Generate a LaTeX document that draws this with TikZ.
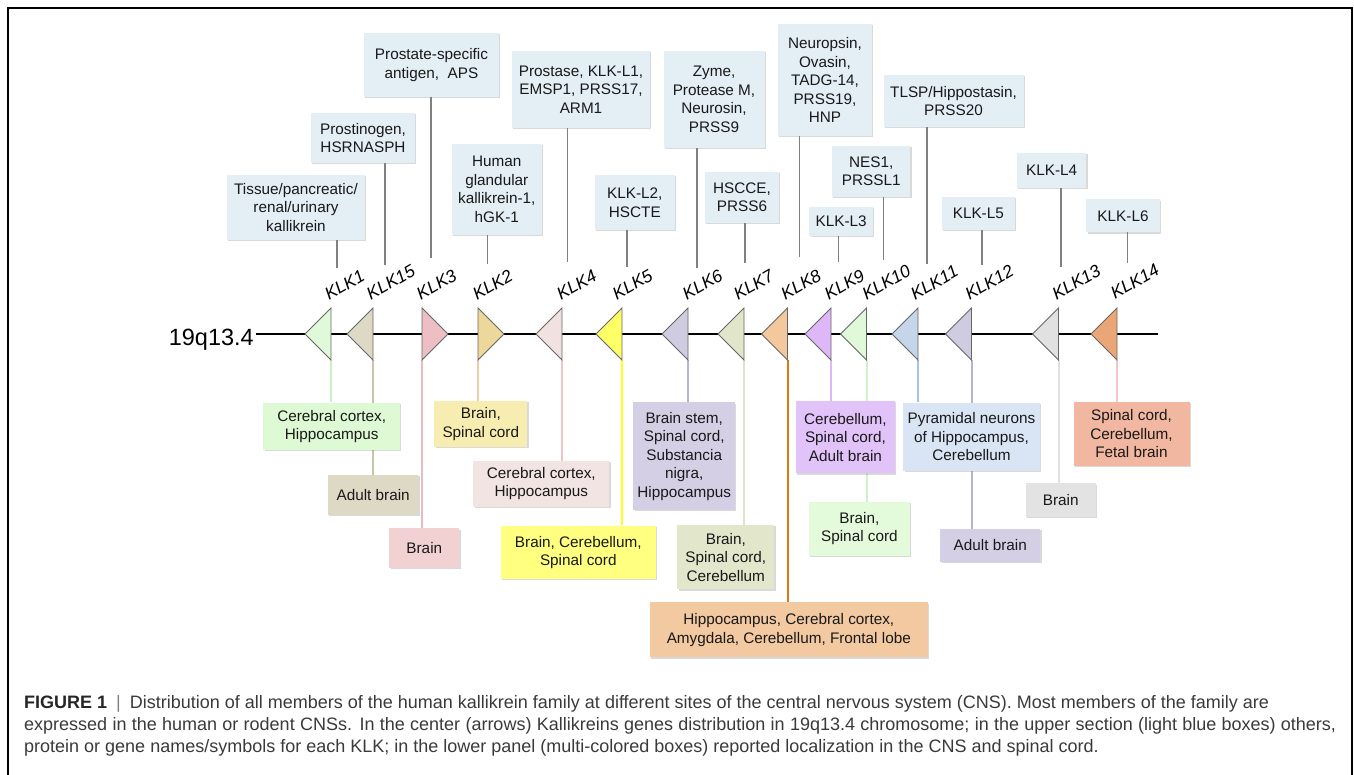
\documentclass[tikz,border=0pt]{standalone}
\usepackage{fontspec}
\setmainfont{Liberation Sans}
\usetikzlibrary{shadows}
\pgfdeclarelayer{bg}
\pgfsetlayers{bg,main}

\definecolor{topblue}{HTML}{E3EEF5}
\definecolor{captext}{HTML}{3A3A3A}
\definecolor{t1}{HTML}{E0F9D9}
\definecolor{t15}{HTML}{DDD9C4}
\definecolor{t3}{HTML}{EDBFC5}
\definecolor{t2}{HTML}{EDD89B}
\definecolor{t4}{HTML}{F2E1E1}
\definecolor{t5}{HTML}{FFFF66}
\definecolor{t6}{HTML}{CFCBE0}
\definecolor{t7}{HTML}{E1E5C9}
\definecolor{t8}{HTML}{F2C89C}
\definecolor{t9}{HTML}{DDB7F7}
\definecolor{t10}{HTML}{E0F9D9}
\definecolor{t11}{HTML}{C5D5EA}
\definecolor{t12}{HTML}{CFCBE0}
\definecolor{t13}{HTML}{E1E1E1}
\definecolor{t14}{HTML}{EBA678}
\definecolor{b1}{HTML}{DDFAD5}
\definecolor{b15}{HTML}{DDD9C5}
\definecolor{b3}{HTML}{F2D1D2}
\definecolor{b2}{HTML}{F8EDB1}
\definecolor{b4}{HTML}{F2E4E3}
\definecolor{b5}{HTML}{FFFF80}
\definecolor{b6}{HTML}{D5CFE5}
\definecolor{b7}{HTML}{E2E6CB}
\definecolor{b8}{HTML}{F2C9A0}
\definecolor{b9}{HTML}{E2C3F9}
\definecolor{b10}{HTML}{E3FADB}
\definecolor{b11}{HTML}{D9E5F4}
\definecolor{b12}{HTML}{D5CFE5}
\definecolor{b13}{HTML}{E3E3E3}
\definecolor{b14}{HTML}{F2B7A0}
\definecolor{s1}{HTML}{CDEFC5}
\definecolor{s15}{HTML}{C9C3AB}
\definecolor{s3}{HTML}{EDBAC1}
\definecolor{s2}{HTML}{F0CBAA}
\definecolor{s4}{HTML}{EEC2C6}
\definecolor{s5}{HTML}{FFFF1A}
\definecolor{s6}{HTML}{B9B2D8}
\definecolor{s7}{HTML}{DEE3C9}
\definecolor{s8}{HTML}{DD7A10}
\definecolor{s9}{HTML}{DDB8F5}
\definecolor{s10}{HTML}{CDF3C5}
\definecolor{s11}{HTML}{A9C1E8}
\definecolor{s12}{HTML}{B9B2D8}
\definecolor{s13}{HTML}{E0E0E0}
\definecolor{s14}{HTML}{F2C7C7}

\begin{document}
\begin{tikzpicture}[x=1pt, y=-1pt,
    boxtext/.style={align=center, inner sep=2pt, text=black!90, font=\fontsize{15.3}{18.5}\selectfont,
        drop shadow={shadow xshift=1.3pt, shadow yshift=-1.3pt, opacity=0.3}},
    topbox/.style={boxtext, fill=topblue},
    botbox/.style={boxtext, fill=#1},
    klk/.style={font=\fontsize{17.5}{20}\selectfont\itshape, rotate=30, anchor=south west, inner sep=0pt},
    tri/.style={draw=black!60, line width=0.8pt},
    topstem/.style={draw=black!50, line width=1.4pt},
    stem/.style={line width=2pt},
    captxt/.style={font=\fontsize{18}{22}\selectfont, text=captext, anchor=base west, inner sep=0pt}]
    \useasboundingbox (0,0) rectangle (1354,775);
    \draw[line width=1.3pt] (8,790) -- (8,8) -- (1352,8) -- (1352,790);

    \node[font=\fontsize{23.5}{28}\selectfont, anchor=base east, inner sep=2pt] (chr) at (256,345) {19q13.4};
    \coordinate (lineend) at (1158,334);
    \draw[line width=1.6pt] (chr.east |- lineend) -- (lineend);

    % genes on the chromosome
    \coordinate (k1) at (331,334);
    \coordinate (k15) at (373,334);
    \coordinate (k3) at (422,334);
    \coordinate (k2) at (478,334);
    \coordinate (k4) at (562,334);
    \coordinate (k5) at (622,334);
    \coordinate (k6) at (688,334);
    \coordinate (k7) at (744,334);
    \coordinate (k8) at (787.5,334);
    \coordinate (k9) at (831,334);
    \coordinate (k10) at (866.5,334);
    \coordinate (k11) at (918,334);
    \coordinate (k12) at (971.5,334);
    \coordinate (k13) at (1058.5,334);
    \coordinate (k14) at (1117,334);

    \draw[tri, fill=t1] (k1) ++(0,-26) -- ++(0,52) -- ++(-26,-26) -- cycle;
    \draw[tri, fill=t15] (k15) ++(0,-26) -- ++(0,52) -- ++(-26,-26) -- cycle;
    \draw[tri, fill=t3] (k3) ++(0,-26) -- ++(0,52) -- ++(26,-26) -- cycle;
    \draw[tri, fill=t2] (k2) ++(0,-26) -- ++(0,52) -- ++(26,-26) -- cycle;
    \draw[tri, fill=t4] (k4) ++(0,-26) -- ++(0,52) -- ++(-26,-26) -- cycle;
    \draw[tri, fill=t5] (k5) ++(0,-26) -- ++(0,52) -- ++(-26,-26) -- cycle;
    \draw[tri, fill=t6] (k6) ++(0,-26) -- ++(0,52) -- ++(-26,-26) -- cycle;
    \draw[tri, fill=t7] (k7) ++(0,-26) -- ++(0,52) -- ++(-26,-26) -- cycle;
    \draw[tri, fill=t8] (k8) ++(0,-26) -- ++(0,52) -- ++(-26,-26) -- cycle;
    \draw[tri, fill=t9] (k9) ++(0,-26) -- ++(0,52) -- ++(-26,-26) -- cycle;
    \draw[tri, fill=t10] (k10) ++(0,-26) -- ++(0,52) -- ++(-26,-26) -- cycle;
    \draw[tri, fill=t11] (k11) ++(0,-26) -- ++(0,52) -- ++(-26,-26) -- cycle;
    \draw[tri, fill=t12] (k12) ++(0,-26) -- ++(0,52) -- ++(-26,-26) -- cycle;
    \draw[tri, fill=t13] (k13) ++(0,-26) -- ++(0,52) -- ++(-26,-26) -- cycle;
    \draw[tri, fill=t14] (k14) ++(0,-26) -- ++(0,52) -- ++(-26,-26) -- cycle;

    \node[klk] (l1) at ([xshift=-2pt, yshift=33pt]k1) {KLK1};
    \node[klk] (l15) at ([xshift=-2pt, yshift=33pt]k15) {KLK15};
    \node[klk] (l3) at ([xshift=-1pt, yshift=33pt]k3) {KLK3};
    \node[klk] (l2) at ([xshift=-1pt, yshift=33pt]k2) {KLK2};
    \node[klk] (l4) at ([xshift=-1pt, yshift=33pt]k4) {KLK4};
    \node[klk] (l5) at ([xshift=-5pt, yshift=33pt]k5) {KLK5};
    \node[klk] (l6) at ([xshift=-1pt, yshift=33pt]k6) {KLK6};
    \node[klk] (l7) at ([xshift=-6pt, yshift=33pt]k7) {KLK7};
    \node[klk] (l8) at ([xshift=-2pt, yshift=33pt]k8) {KLK8};
    \node[klk] (l9) at ([xshift=-2pt, yshift=33pt]k9) {KLK9};
    \node[klk] (l10) at ([xshift=0pt, yshift=33pt]k10) {KLK10};
    \node[klk] (l11) at ([xshift=-3pt, yshift=33pt]k11) {KLK11};
    \node[klk] (l12) at ([xshift=-2pt, yshift=33pt]k12) {KLK12};
    \node[klk] (l13) at ([xshift=-2pt, yshift=33pt]k13) {KLK13};
    \node[klk] (l14) at ([xshift=-2pt, yshift=34pt]k14) {KLK14};

    % other names (upper section)
    \node[topbox, minimum width=138pt, minimum height=65pt] (tb1) at (296,207.5) {Tissue/pancreatic/\\renal/urinary\\kallikrein};
    \node[topbox, minimum width=104pt, minimum height=50pt] (tb15) at (363,138) {Prostinogen,\\HSRNASPH};
    \node[topbox, minimum width=135pt, minimum height=64pt] (tb3) at (431.5,65) {Prostate-specific\\antigen,\ \ APS};
    \node[topbox, minimum width=89.5pt, minimum height=91pt] (tb2) at (496.8,189.5) {Human\\glandular\\kallikrein-1,\\hGK-1};
    \node[topbox, minimum width=138pt, minimum height=77pt] (tb4) at (581,89.3) {Prostase, KLK-L1,\\EMSP1, PRSS17,\\ARM1};
    \node[topbox, minimum width=79.6pt, minimum height=55pt] (tb5) at (634.8,202.5) {KLK-L2,\\HSCTE};
    \node[topbox, minimum width=101pt, minimum height=97pt] (tb6) at (714,99.5) {Zyme,\\Protease M,\\Neurosin,\\PRSS9};
    \node[topbox, minimum width=74pt, minimum height=51.3pt] (tb7) at (742,197.3) {HSCCE,\\PRSS6};
    \node[topbox, minimum width=94pt, minimum height=111.7pt] (tb8) at (825,80) {Neuropsin,\\Ovasin,\\TADG-14,\\PRSS19,\\HNP};
    \node[topbox, minimum width=63.6pt, minimum height=29pt] (tb9) at (841.2,221.2) {KLK-L3};
    \node[topbox, minimum width=78.4pt, minimum height=51pt] (tb10) at (871.2,171.2) {NES1,\\PRSSL1};
    \node[topbox, minimum width=140pt, minimum height=52pt] (tb11) at (953.5,101) {TLSP/Hippostasin,\\PRSS20};
    \node[topbox, minimum width=72.6pt, minimum height=33.3pt] (tb12) at (978.3,213.3) {KLK-L5};
    \node[topbox, minimum width=69.5pt, minimum height=34.7pt] (tb13) at (1051.7,170.3) {KLK-L4};
    \node[topbox, minimum width=73.2pt, minimum height=33pt] (tb14) at (1123,215.8) {KLK-L6};

    \coordinate (u1) at (337,268);
    \coordinate (u15) at (385,265);
    \coordinate (u3) at (431,258);
    \coordinate (u2) at (487.5,264);
    \coordinate (u4) at (567.5,262);
    \coordinate (u5) at (627,267);
    \coordinate (u6) at (697,268);
    \coordinate (u7) at (745,263);
    \coordinate (u8) at (799.5,257);
    \coordinate (u9) at (838.6,262);
    \coordinate (u10) at (883.5,260);
    \coordinate (u11) at (927,264);
    \coordinate (u12) at (982,265);
    \coordinate (u13) at (1061,267);
    \coordinate (u14) at (1127.5,263);

    \draw[topstem] (tb1.south -| u1) -- (u1);
    \draw[topstem] (tb15.south -| u15) -- (u15);
    \draw[topstem] (tb3.south -| u3) -- (u3);
    \draw[topstem] (tb2.south -| u2) -- (u2);
    \draw[topstem] (tb4.south -| u4) -- (u4);
    \draw[topstem] (tb5.south -| u5) -- (u5);
    \draw[topstem] (tb6.south -| u6) -- (u6);
    \draw[topstem] (tb7.south -| u7) -- (u7);
    \draw[topstem] (tb8.south -| u8) -- (u8);
    \draw[topstem] (tb9.south -| u9) -- (u9);
    \draw[topstem] (tb10.south -| u10) -- (u10);
    \draw[topstem] (tb11.south -| u11) -- (u11);
    \draw[topstem] (tb12.south -| u12) -- (u12);
    \draw[topstem] (tb13.south -| u13) -- (u13);
    \draw[topstem] (tb14.south -| u14) -- (u14);

    % localization in the CNS (lower panel)
    \node[botbox=b1, minimum width=136.7pt, minimum height=47.3pt] (bb1) at (331.7,426.3) {Cerebral cortex,\\Hippocampus};
    \node[botbox=b15, minimum width=90.3pt, minimum height=40pt] (bb15) at (373.2,495) {Adult brain};
    \node[botbox=b3, minimum width=70pt, minimum height=39.4pt] (bb3) at (424.3,548) {Brain};
    \node[botbox=b2, minimum width=93pt, minimum height=45.7pt] (bb2) at (480.8,423.8) {Brain,\\Spinal cord};
    \node[botbox=b4, minimum width=136pt, minimum height=46pt] (bb4) at (541.3,483.7) {Cerebral cortex,\\Hippocampus};
    \node[botbox=b5, minimum width=155.3pt, minimum height=53.3pt] (bb5) at (578.3,552.3) {Brain, Cerebellum,\\Spinal cord};
    \node[botbox=b6, minimum width=101.7pt, minimum height=107.7pt] (bb6) at (684.2,456.2) {Brain stem,\\Spinal cord,\\Substancia\\nigra,\\Hippocampus};
    \node[botbox=b7, minimum width=96.8pt, minimum height=64.3pt] (bb7) at (725.8,557.2) {Brain,\\Spinal cord,\\Cerebellum};
    \node[botbox=b8, minimum width=278.5pt, minimum height=55pt] (bb8) at (788.8,629.8) {Hippocampus, Cerebral cortex,\\Amygdala, Cerebellum, Frontal lobe};
    \node[botbox=b9, minimum width=98.8pt, minimum height=72.3pt] (bb9) at (845.4,437.2) {Cerebellum,\\Spinal cord,\\Adult brain};
    \node[botbox=b10, minimum width=101.3pt, minimum height=54pt] (bb10) at (859.4,528.7) {Brain,\\Spinal cord};
    \node[botbox=b11, minimum width=136.6pt, minimum height=68.3pt] (bb11) at (971.5,436.8) {Pyramidal neurons\\of Hippocampus,\\Cerebellum};
    \node[botbox=b12, minimum width=100pt, minimum height=32.7pt] (bb12) at (990.3,545.3) {Adult brain};
    \node[botbox=b13, minimum width=70pt, minimum height=33.3pt] (bb13) at (1060.7,500) {Brain};
    \node[botbox=b14, minimum width=116pt, minimum height=64pt] (bb14) at (1131.5,433.7) {Spinal cord,\\Cerebellum,\\Fetal brain};

    \begin{pgfonlayer}{bg}
    \draw[stem, s1] ([yshift=-26pt]k1) -- (k1 |- bb1.north);
    \draw[stem, s15] ([yshift=-26pt]k15) -- (k15 |- bb15.north);
    \draw[stem, s3] ([yshift=-26pt]k3) -- (k3 |- bb3.north);
    \draw[stem, s2] ([yshift=-26pt]k2) -- (k2 |- bb2.north);
    \draw[stem, s4] ([yshift=-26pt]k4) -- (k4 |- bb4.north);
    \draw[stem, s5] ([yshift=-26pt]k5) -- (k5 |- bb5.north);
    \draw[stem, s6] ([yshift=-26pt]k6) -- (k6 |- bb6.north);
    \draw[stem, s7] ([yshift=-26pt]k7) -- (k7 |- bb7.north);
    \draw[stem, s8] ([yshift=-26pt]k8) -- (k8 |- bb8.north);
    \draw[stem, s9] ([yshift=-26pt]k9) -- (k9 |- bb9.north);
    \draw[stem, s10] ([yshift=-26pt]k10) -- (k10 |- bb10.north);
    \draw[stem, s11] ([yshift=-26pt]k11) -- (k11 |- bb11.north);
    \draw[stem, s12] ([yshift=-26pt]k12) -- (k12 |- bb12.north);
    \draw[stem, s13] ([yshift=-26pt]k13) -- (k13 |- bb13.north);
    \draw[stem, s14] ([yshift=-26pt]k14) -- (k14 |- bb14.north);
    \end{pgfonlayer}

    \node[captxt] (cap1) at (24,708) {\textbf{\color{black!85}FIGURE 1}\hspace{9pt}{\color{black!50}|}\hspace{9pt}Distribution of all members of the human kallikrein family at different sites of the central nervous system (CNS). Most members of the family are};
    \node[captxt] (cap2) at (24,730) {\makebox[1312pt][s]{expressed in the human or rodent CNSs. In the center (arrows) Kallikreins genes distribution in 19q13.4 chromosome; in the upper section (light blue boxes) others,}};
    \node[captxt] (cap3) at (24,752) {protein or gene names/symbols for each KLK; in the lower panel (multi-colored boxes) reported localization in the CNS and spinal cord.};
\end{tikzpicture}
\end{document}
